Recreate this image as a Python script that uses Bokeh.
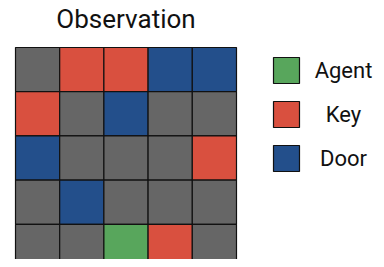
from bokeh.plotting import figure
from bokeh.models import Range1d, ColumnDataSource
from bokeh.core.properties import value
from bokeh.embed import file_html
from bokeh.resources import INLINE

# Data
title_text = "Observation"
grid_rows = [
    ["empty", "key", "key", "door", "door"],
    ["key", "empty", "door", "empty", "empty"],
    ["door", "empty", "empty", "empty", "key"],
    ["empty", "door", "empty", "empty", "empty"],
    ["empty", "empty", "agent", "key", "empty"],
]
legend_keys = ["agent", "key", "door"]
legend_labels = ["Agent", "Key", "Door"]
palette = {"empty": "#666666", "key": "#d9503f", "door": "#234f8b", "agent": "#58a65c"}

# Layout (pixels)
W, H = 376, 259
cell = 44.2
left_px, top_px = 15, 47
n = len(grid_rows)

x0 = -left_px / cell
y1 = n + top_px / cell
p = figure(width=W, height=H, output_backend="svg", toolbar_location=None,
           x_range=Range1d(x0, x0 + W / cell), y_range=Range1d(y1 - H / cell, y1),
           min_border=0)
p.axis.visible = False
p.grid.visible = False
p.outline_line_color = None
p.background_fill_color = "white"

xs, ys, cs = [], [], []
for r, row in enumerate(grid_rows):
    for c, kind in enumerate(row):
        xs.append(c + 0.5)
        ys.append(n - r - 0.5)
        cs.append(palette[kind])
src = ColumnDataSource(dict(x=xs, y=ys, color=cs))
p.rect(x="x", y="y", width=1, height=1, fill_color="color", line_color="#111111",
       line_width=1.2, source=src)

# Title
p.text(x=[n / 2], y=[y1 - 18 / cell], text=[title_text], text_align="center",
       text_baseline="middle", text_font=value("Roboto"), text_font_size="26px",
       text_color="#111111")

# Legend
sq_x = 286 / cell + x0
lab_x = 343 / cell + x0
ly = [y1 - (70 + 44 * i) / cell for i in range(len(legend_keys))]
p.rect(x=[sq_x] * 3, y=ly, width=26 / cell, height=26 / cell,
       fill_color=[palette[k] for k in legend_keys], line_color="#111111", line_width=1.2)
p.text(x=[lab_x] * 3, y=ly, text=legend_labels, text_align="center",
       text_baseline="middle", text_font=value("Roboto"), text_font_size="22px",
       text_color="#111111")

open("out.html", "w").write(file_html(p, INLINE))
